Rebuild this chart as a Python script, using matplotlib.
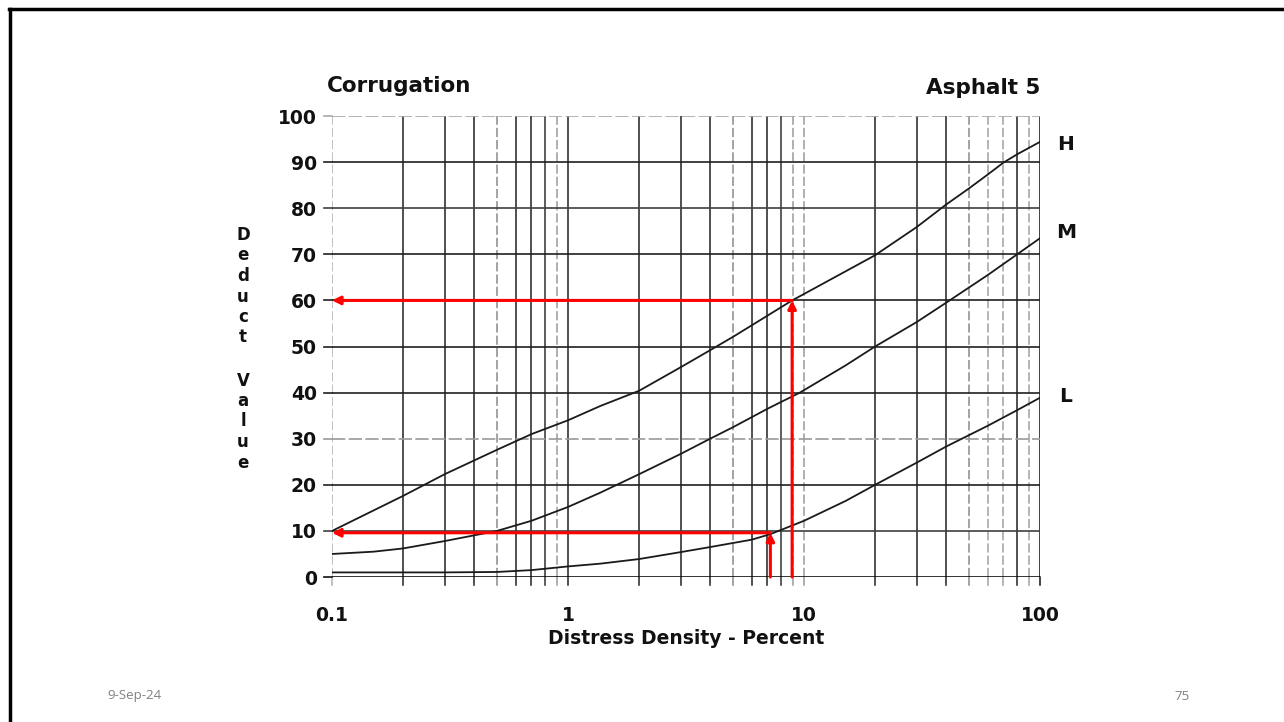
import matplotlib
matplotlib.use("Agg")
import matplotlib.pyplot as plt
from matplotlib.lines import Line2D
import numpy as np

# deduct value curves, read per severity level
h_x = [0.1, 0.2, 0.3, 0.5, 0.7, 1, 1.37, 2, 3, 4, 5, 7, 8.9, 10, 20, 30, 40, 50, 60, 70, 80, 100]
h_y = [10, 17.6, 22.3, 27.6, 31.0, 34.0, 37.1, 40.4, 45.5, 49.2, 52.1, 56.7, 60.0, 61.4, 69.8, 75.9, 80.8, 84.3, 87.3, 89.9, 91.7, 94.4]

m_x = [0.1, 0.15, 0.2, 0.3, 0.5, 0.7, 1, 1.37, 2, 3, 4, 5, 7, 9.6, 15, 20, 30, 40, 60, 80, 100]
m_y = [5.0, 5.5, 6.2, 7.8, 10.0, 12.2, 15.2, 18.3, 22.3, 26.7, 30.0, 32.5, 36.5, 40.0, 45.9, 50.0, 55.3, 59.5, 65.5, 70.0, 73.5]

l_x = [0.1, 0.3, 0.5, 0.7, 1, 1.37, 2, 3, 4, 6, 7.2, 10, 15, 20, 30, 40, 60, 80, 100]
l_y = [1.0, 1.0, 1.1, 1.5, 2.3, 2.9, 3.9, 5.4, 6.5, 8.1, 9.3, 12.2, 16.5, 20.0, 24.8, 28.3, 32.8, 36.2, 38.9]

# worked examples: density -> deduct value
ex_density = [8.9, 7.2]
ex_deduct = [60, 9.6]

x_major = [0.1, 1, 10, 100]
x_major_labels = ["0.1", "1", "10", "100"]
y_ticks = list(range(0, 101, 10))

fig = plt.figure(figsize=(12.84, 7.22), dpi=100)
fig.patch.set_facecolor("white")

# slide border (top and left edges)
fig.add_artist(Line2D([0.007, 1.0], [0.988, 0.988], color="black", lw=2.5,
                      transform=fig.transFigure))
fig.add_artist(Line2D([0.0075, 0.0075], [0.0, 0.988], color="black", lw=2.5,
                      transform=fig.transFigure))

ax = fig.add_axes([0.2586, 0.2008, 0.5514, 0.6385])
ax.set_xscale("log")
ax.set_xlim(0.1, 100)
ax.set_ylim(0, 100)
for s in ax.spines.values():
    s.set_visible(False)

# log grid, with the uneven ink of a scanned chart
grid_x = []
for dec in [0.1, 1, 10]:
    for k in range(1, 10):
        grid_x.append(dec * k)
grid_x.append(100)
shade = ["#b0b0b0", "#202020", "#202020", "#202020", "#8a8a8a", "#202020", "#202020", "#303030", "#9a9a9a",
         "#202020", "#202020", "#202020", "#202020", "#8a8a8a", "#202020", "#202020", "#303030", "#9a9a9a",
         "#9a9a9a", "#202020", "#202020", "#202020", "#8a8a8a", "#a0a0a0", "#a0a0a0", "#202020", "#a0a0a0",
         "#101010"]
for gx, c in zip(grid_x, shade):
    ls = "-" if c in ("#202020", "#101010", "#303030") else (0, (6, 2))
    ax.axvline(gx, color=c, lw=1.1, ls=ls, zorder=1)
    ax.plot([gx, gx], [0, -1.7], color=c, lw=1.1, clip_on=False, zorder=1)

hshade = ["#101010", "#404040", "#202020", "#9a9a9a", "#202020", "#202020",
          "#202020", "#202020", "#404040", "#202020", "#a8a8a8"]
for gy, c in zip(y_ticks, hshade):
    ls = (0, (8, 2)) if c in ("#9a9a9a", "#a8a8a8") else "-"
    ax.axhline(gy, color=c, lw=1.2, ls=ls, zorder=1)
    ax.plot([0.1 / 10 ** 0.035, 0.1], [gy, gy], color=c, lw=1.2, clip_on=False, zorder=1)

ax.set_xticks(x_major)
ax.set_xticklabels(x_major_labels)
ax.set_xticks([], minor=True)
ax.set_yticks(y_ticks)
ax.tick_params(axis="both", which="both", length=0)
ax.tick_params(axis="x", pad=21)
ax.tick_params(axis="y", pad=11)
for lab in ax.get_xticklabels() + ax.get_yticklabels():
    lab.set_fontsize(13.5)
    lab.set_fontweight("bold")
    lab.set_color("#111111")

# severity curves
for xs, ys in [(h_x, h_y), (m_x, m_y), (l_x, l_y)]:
    ax.plot(xs, ys, color="#1a1a1a", lw=1.3, zorder=3)

# red arrows: up from the density, then across to the deduct value
for d, v in zip(ex_density, ex_deduct):
    ax.annotate("", xy=(d, v), xytext=(d, 0),
                arrowprops=dict(arrowstyle="-|>", color="red", lw=2.2,
                                mutation_scale=12, shrinkA=0, shrinkB=0),
                zorder=5)
    ax.annotate("", xy=(0.1, v), xytext=(d, v),
                arrowprops=dict(arrowstyle="-|>", color="red", lw=2.2,
                                mutation_scale=12, shrinkA=0, shrinkB=0),
                zorder=5)

fig.text(327 / 1284, 1 - 86 / 722, "Corrugation", fontsize=15.5, ha="left", va="center",
         color="#111111", fontweight="bold")
fig.text(1040 / 1284, 1 - 88 / 722, "Asphalt 5", fontsize=15.5, ha="right", va="center",
         color="#111111", fontweight="bold")
for lab, yy in [("H", 145), ("M", 233), ("L", 397)]:
    fig.text(1066 / 1284, 1 - yy / 722, lab, fontsize=14.5, ha="center", va="center",
             color="#111111", fontweight="bold")

fig.text(686 / 1284, 1 - 638 / 722, "Distress Density - Percent", fontsize=13.5,
         ha="center", va="center", fontweight="bold", color="#111111")

ylab = "Deduct Value"
yy = 235
for ch in ylab:
    if ch == " ":
        yy += 22.5
        continue
    fig.text(243 / 1284, 1 - yy / 722, ch, fontsize=12, ha="center", va="center",
             fontweight="bold", color="#111111")
    yy += 20.5

fig.text(107 / 1284, 1 - 696 / 722, "9-Sep-24", fontsize=9.5, ha="left", va="center",
         color="#808080", family="Open Sans")
fig.text(1190 / 1284, 1 - 696 / 722, "75", fontsize=9.5, ha="right", va="center",
         color="#808080", family="Open Sans")

fig.savefig("out.png", dpi=100)
